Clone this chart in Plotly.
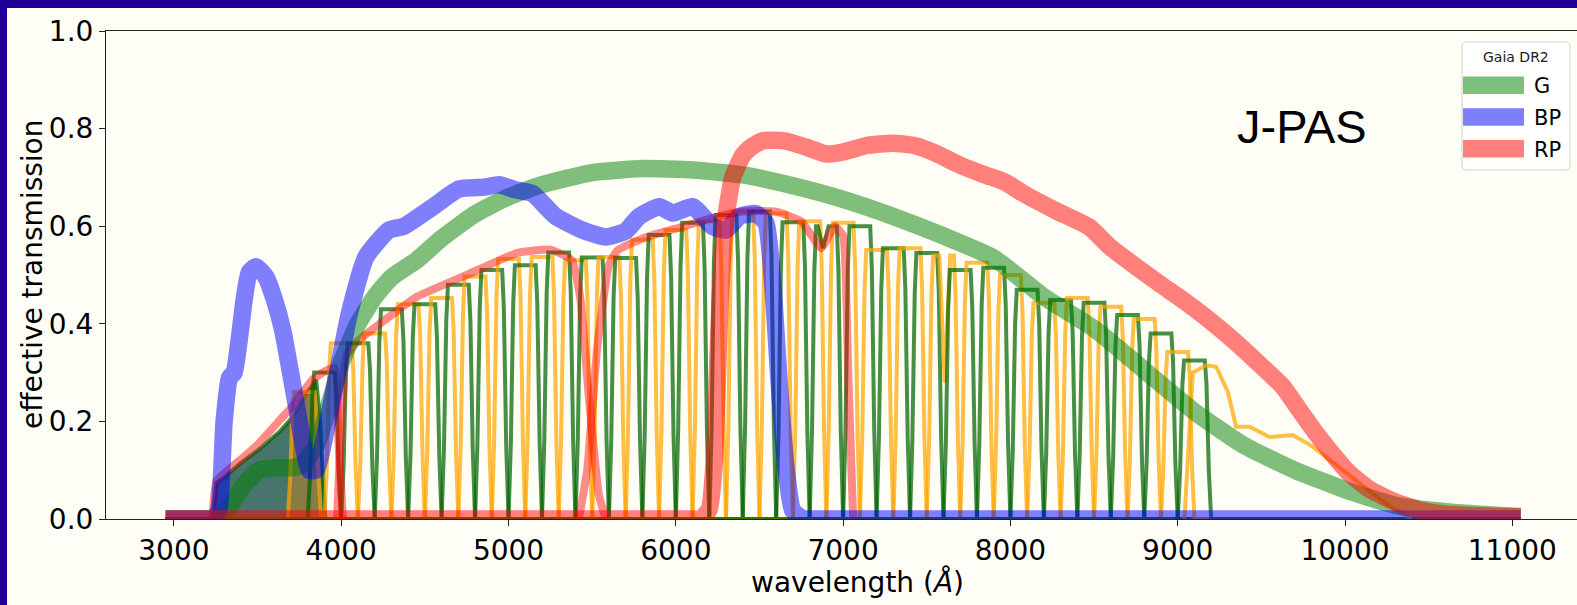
import plotly.graph_objects as go

# ---------------- Gaia DR2 passbands ----------------
G_WAVE = [2950, 3000, 3200, 3250, 3320, 3420, 3510, 3600, 3700, 3760, 3850, 3950, 4000,
          4100, 4200, 4300, 4450, 4600, 4800, 5000, 5200, 5500, 5800, 6100, 6400, 6700,
          7000, 7300, 7600, 7900, 8200, 8500, 8800, 9100, 9400, 9700, 10000, 10300, 10600,
          11050]
G_TRANS = [0, 0, 0, 0, 0.02, 0.07, 0.10, 0.105, 0.105, 0.11, 0.15, 0.26, 0.32, 0.40, 0.455,
           0.495, 0.53, 0.575, 0.625, 0.66, 0.685, 0.71, 0.718, 0.715, 0.705, 0.683, 0.655,
           0.62, 0.58, 0.535, 0.455, 0.39, 0.305, 0.22, 0.15, 0.10, 0.06, 0.028, 0.015,
           0.005]

BP_WAVE = [2950, 3000, 3200, 3240, 3270, 3300, 3333, 3360, 3391, 3420, 3450, 3490, 3550,
           3600, 3650, 3730, 3810, 3850, 3909, 3970, 4048, 4148, 4285, 4375, 4554, 4704,
           4855, 4944, 5035, 5143, 5282, 5442, 5582, 5700, 5781, 5901, 5981, 6101, 6221,
           6300, 6380, 6479, 6539, 6579, 6618, 6658, 6698, 6760, 6800, 11000, 11050]
BP_TRANS = [0, 0, 0, 0, 0.02, 0.2, 0.29, 0.30, 0.37, 0.45, 0.505, 0.517, 0.496, 0.45,
            0.387, 0.237, 0.10, 0.10, 0.182, 0.285, 0.42, 0.537, 0.592, 0.60, 0.641, 0.676,
            0.68, 0.685, 0.675, 0.667, 0.62, 0.592, 0.578, 0.59, 0.62, 0.64, 0.627, 0.64,
            0.599, 0.592, 0.62, 0.626, 0.606, 0.483, 0.278, 0.107, 0.018, 0, 0, 0, 0]

RP_WAVE = [2950, 3000, 6100, 6150, 6200, 6230, 6265, 6300, 6340, 6400, 6450, 6520, 6650,
           6780, 6900, 7000, 7150, 7300, 7430, 7550, 7700, 7850, 7970, 8072, 8270, 8472,
           8600, 8751, 8900, 9030, 9180, 9330, 9480, 9629, 9730, 9826, 9925, 10025, 10150,
           10300, 10450, 10600, 11050]
RP_TRANS = [0, 0, 0, 0, 0.02, 0.12, 0.45, 0.62, 0.70, 0.745, 0.762, 0.775, 0.775, 0.762,
            0.748, 0.752, 0.766, 0.77, 0.765, 0.75, 0.725, 0.705, 0.69, 0.668, 0.632, 0.598,
            0.556, 0.517, 0.48, 0.449, 0.41, 0.367, 0.32, 0.271, 0.222, 0.176, 0.133, 0.094,
            0.06, 0.035, 0.018, 0.01, 0.004]

# ---------------- J-PAS filter system ----------------
# narrow-band filters: central wavelength and peak effective transmission
JPAS_CENTER = [3780, 3900, 4000, 4100, 4200, 4300, 4400, 4500, 4600, 4700, 4800, 4900,
               5000, 5100, 5200, 5300, 5400, 5500, 5600, 5700, 5800, 5900, 6000, 6100,
               6200, 6300, 6400, 6500, 6600, 6700, 6800, 6900, 7000, 7100, 7200, 7300,
               7400, 7500, 7600, 7700, 7800, 7900, 8000, 8100, 8200, 8300, 8400, 8500,
               8600, 8700, 8800, 8900, 9000, 9100]
JPAS_PEAK = [0.26, 0.30, 0.36, 0.36, 0.38, 0.43, 0.44, 0.44, 0.453, 0.48, 0.497, 0.51,
             0.533, 0.52, 0.537, 0.546, 0.53, 0.536, 0.537, 0.535, 0.572, 0.582, 0.592,
             0.607, 0.61, 0.623, 0.63, 0.63, 0.626, 0.608, 0.61, 0.60, 0.607, 0.60, 0.551,
             0.555, 0.555, 0.545, 0.54, 0.51, 0.525, 0.515, 0.50, 0.47, 0.443, 0.449,
             0.453, 0.443, 0.435, 0.418, 0.41, 0.38, 0.342, 0.325]
# telluric absorption features inside two of the filters
NOTCH_FILTER = [6900, 7600]
NOTCH_WAVE = [6880, 7607]
NOTCH_TRANS = [0.555, 0.28]

# broad blue filter (filled)
UJAVA_WAVE = [3230, 3255, 3300, 3400, 3500, 3634, 3700, 3800, 3850, 3875, 3905]
UJAVA_TRANS = [0, 0.074, 0.085, 0.115, 0.14, 0.18, 0.205, 0.26, 0.285, 0.2, 0]

# wide red-end filter
J1007_WAVE = [9040, 9090, 9170, 9230, 9300, 9349, 9429, 9549, 9687, 9800, 9950, 10100,
              10250, 10400]
J1007_TRANS = [0, 0.30, 0.315, 0.312, 0.26, 0.189, 0.189, 0.168, 0.172, 0.15, 0.11,
               0.07, 0.03, 0]

# broad-band filters
BROAD_U_WAVE = [3230, 3255, 3400, 3500, 3634, 3700, 3833, 3900, 3960, 3985, 4010]
BROAD_U_TRANS = [0, 0.078, 0.122, 0.152, 0.203, 0.228, 0.287, 0.302, 0.31, 0.15, 0]
BROAD_G_WAVE = [3975, 4000, 4030, 4100, 4250, 4450, 4750, 5050, 5250, 5380, 5430, 5480,
                5540, 5580]
BROAD_G_TRANS = [0, 0.2, 0.335, 0.365, 0.405, 0.455, 0.5, 0.545, 0.552, 0.53, 0.45, 0.25,
                 0.05, 0]
BROAD_R_WAVE = [5420, 5470, 5530, 5600, 5650, 5800, 6000, 6200, 6400, 6600, 6750, 6870,
                6950, 7000, 7030, 7060]
BROAD_R_TRANS = [0, 0.1, 0.35, 0.52, 0.55, 0.575, 0.595, 0.615, 0.63, 0.63, 0.61, 0.555,
                 0.6, 0.58, 0.3, 0]

X_TICKS = [3000, 4000, 5000, 6000, 7000, 8000, 9000, 10000, 11000]
Y_TICKS = [0.0, 0.2, 0.4, 0.6, 0.8, 1.0]
LEGEND_NAMES = ["G", "BP", "RP"]

# ---------------- styling ----------------
W, H = 1577, 605
ML, MT, MB = 106, 31, 86
PW, PH = W - ML, H - MT - MB
BG = "#fefef6"
FRAME = "rgb(32,0,150)"
AX_FONT = "DejaVu Sans"
WL_MIN, WL_MAX = 2950, 11050

GAIA_COLORS = ["rgba(0,128,0,0.5)", "rgba(0,0,255,0.5)", "rgba(255,0,0,0.5)"]
NB_GREEN = "rgba(0,100,0,0.72)"
NB_ORANGE = "rgba(255,165,0,0.72)"
BROAD_RED = "rgba(255,0,0,0.45)"
# filter profile template: offsets from centre (A) and fraction of peak
PROFILE_DX = [-100, -86, -72, -62, 62, 72, 86, 100]
PROFILE_FR = [0, 0.3, 0.85, 1, 1, 0.85, 0.3, 0]


def px(xp):
    return (xp - ML) / PW


def py(yp):
    return (MT + PH - yp) / PH


fig = go.Figure()


def add_curve(x, y, color, width, fill=None, fillcolor=None, smooth=0.0):
    shape = dict(shape="spline", smoothing=smooth) if smooth else dict(shape="linear")
    fig.add_trace(go.Scatter(x=x, y=y, mode="lines",
                             line=dict(color=color, width=width, **shape),
                             fill=fill, fillcolor=fillcolor,
                             showlegend=False, hoverinfo="skip"))


# filled broad blue filter
add_curve([WL_MIN] + UJAVA_WAVE + [WL_MAX], [0] + UJAVA_TRANS + [0],
          NB_GREEN, 4, fill="tozeroy", fillcolor="rgba(10,70,60,0.75)")

# narrow-band filters, alternating colours
for i, (c, p) in enumerate(zip(JPAS_CENTER, JPAS_PEAK)):
    xs = [c + d for d in PROFILE_DX]
    ys = [p * f for f in PROFILE_FR]
    if c in NOTCH_FILTER:
        k = NOTCH_FILTER.index(c)
        xs = xs[:4] + [NOTCH_WAVE[k] - 32, NOTCH_WAVE[k], NOTCH_WAVE[k] + 33] + xs[4:]
        ys = ys[:4] + [p, NOTCH_TRANS[k], p] + ys[4:]
    color = NB_ORANGE if i % 2 == 0 else NB_GREEN
    if i == 0:
        add_curve([WL_MIN] + xs + [WL_MAX], [0] + ys + [0], color, 4,
                  fill="tozeroy", fillcolor="rgba(255,140,0,0.35)")
    else:
        add_curve([WL_MIN] + xs + [WL_MAX], [0] + ys + [0], color, 4)

add_curve(J1007_WAVE, J1007_TRANS, NB_ORANGE, 4)

# broad-band filters
for bx, by in [(BROAD_U_WAVE, BROAD_U_TRANS), (BROAD_G_WAVE, BROAD_G_TRANS),
               (BROAD_R_WAVE, BROAD_R_TRANS)]:
    add_curve(bx, by, BROAD_RED, 8, smooth=0.4)

# Gaia DR2 passbands on top
for gx, gy, col in [(G_WAVE, G_TRANS, GAIA_COLORS[0]), (BP_WAVE, BP_TRANS, GAIA_COLORS[1]),
                    (RP_WAVE, RP_TRANS, GAIA_COLORS[2])]:
    add_curve(gx, gy, col, 17.5, smooth=0.5)

# ---------------- frame, legend and labels ----------------
shapes = [
    dict(type="rect", xref="paper", yref="paper", x0=px(0), x1=px(7), y0=py(H), y1=py(0),
         fillcolor=FRAME, line=dict(width=0), layer="above"),
    dict(type="rect", xref="paper", yref="paper", x0=px(0), x1=px(W), y0=py(8), y1=py(0),
         fillcolor=FRAME, line=dict(width=0), layer="above"),
]

lx0, lx1, ly0, ly1, r = 1462, 1570, 42, 170, 5
path = (f"M {px(lx0 + r)},{py(ly0)} L {px(lx1 - r)},{py(ly0)} "
        f"Q {px(lx1)},{py(ly0)} {px(lx1)},{py(ly0 + r)} L {px(lx1)},{py(ly1 - r)} "
        f"Q {px(lx1)},{py(ly1)} {px(lx1 - r)},{py(ly1)} L {px(lx0 + r)},{py(ly1)} "
        f"Q {px(lx0)},{py(ly1)} {px(lx0)},{py(ly1 - r)} L {px(lx0)},{py(ly0 + r)} "
        f"Q {px(lx0)},{py(ly0)} {px(lx0 + r)},{py(ly0)} Z")
shapes.append(dict(type="path", xref="paper", yref="paper", path=path,
                   fillcolor="rgba(255,255,255,0.8)", line=dict(color="#d0d0d0", width=1),
                   layer="above"))

annotations = []
row_y = [85.3, 117, 148.7]
for name, col, yy in zip(LEGEND_NAMES, GAIA_COLORS, row_y):
    shapes.append(dict(type="line", xref="paper", yref="paper", x0=px(1463), x1=px(1524),
                       y0=py(yy), y1=py(yy), line=dict(color=col, width=17.5),
                       layer="above"))
    annotations.append(dict(xref="paper", yref="paper", x=px(1532), y=py(yy + 1),
                            text=name, showarrow=False, xanchor="left", yanchor="middle",
                            font=dict(family=AX_FONT, size=21, color="black")))

annotations += [
    dict(xref="paper", yref="paper", x=px(1516), y=py(57), text="Gaia DR2",
         showarrow=False, xanchor="center", yanchor="middle",
         font=dict(family=AX_FONT, size=14, color="#222")),
    dict(xref="paper", yref="paper", x=px(1235), y=py(126), text="J-PAS",
         showarrow=False, xanchor="left", yanchor="middle",
         font=dict(family="Liberation Sans", size=47, color="black")),
    dict(xref="paper", yref="paper", x=px(857), y=py(582), text="wavelength (<i>Å</i>)",
         showarrow=False, xanchor="center", yanchor="middle",
         font=dict(family=AX_FONT, size=28, color="black")),
    dict(xref="paper", yref="paper", x=px(32), y=py(275), text="effective transmission",
         showarrow=False, xanchor="center", yanchor="middle", textangle=-90,
         font=dict(family=AX_FONT, size=28, color="black")),
]

fig.update_layout(
    width=W, height=H,
    margin=dict(l=ML, r=0, t=MT, b=MB, pad=0),
    paper_bgcolor=BG, plot_bgcolor=BG,
    showlegend=False,
    shapes=shapes, annotations=annotations,
    xaxis=dict(range=[2594, 2594 + PW / 0.1673], tickvals=X_TICKS,
               ticktext=[str(t) for t in X_TICKS],
               showline=True, linecolor="#222", linewidth=1, mirror=True,
               ticks="outside", ticklen=6, tickcolor="#222",
               showgrid=False, zeroline=False,
               tickfont=dict(family=AX_FONT, size=28, color="black")),
    yaxis=dict(range=[0, 1], tickvals=Y_TICKS, ticktext=[f"{t:.1f}" for t in Y_TICKS],
               showline=True, linecolor="#222", linewidth=1,
               ticks="outside", ticklen=6, tickcolor="#222",
               showgrid=False, zeroline=False,
               tickfont=dict(family=AX_FONT, size=28, color="black")),
)

fig.write_html("out.html")
